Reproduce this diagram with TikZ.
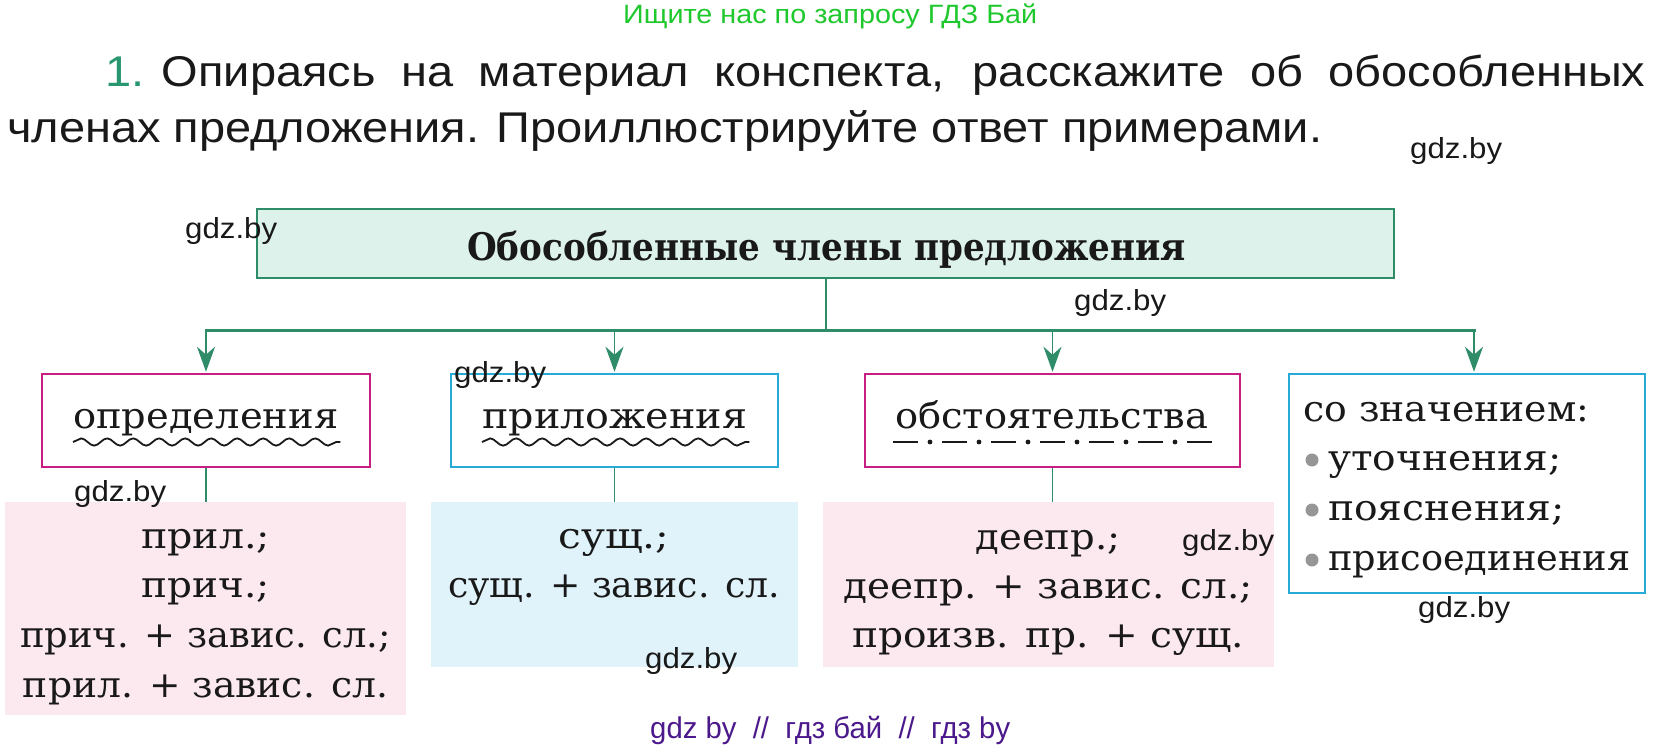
\documentclass[tikz,border=0pt]{standalone}
\usepackage{fontspec}
\setmainfont{DejaVu Serif}
\newfontfamily\hsans{Liberation Sans}
\usetikzlibrary{arrows.meta,decorations.pathmorphing}
\definecolor{grn}{RGB}{46,140,105}
\definecolor{mintfill}{RGB}{222,242,236}
\definecolor{mag}{RGB}{200,30,130}
\definecolor{cya}{RGB}{40,170,215}
\definecolor{pinkfill}{RGB}{252,232,239}
\definecolor{bluefill}{RGB}{224,243,251}
\definecolor{topgreen}{RGB}{30,200,45}
\definecolor{numgreen}{RGB}{40,150,110}
\definecolor{purp}{RGB}{75,25,140}
\definecolor{bulgray}{RGB}{150,150,150}
\definecolor{txt}{RGB}{25,25,25}
\newsavebox\fitbox
\newcommand\fitx[2]{\sbox\fitbox{#2}\pgfmathsetmacro\fitsc{#1/\the\wd\fitbox}\scalebox{\fitsc}[1]{\usebox\fitbox}}
\newcommand\hdrf{\hsans\fontsize{43}{50}\selectfont}
\newcommand\topf{\hsans\fontsize{26.5}{30}\selectfont}
\newcommand\bodyf{\fontsize{36}{40}\selectfont}
\newcommand\titlef{\bfseries\fontsize{38}{44}\selectfont}
\newcommand\gdzf{\hsans\fontsize{29}{32}\selectfont}
\newcommand\gdz{\gdzf\fitx{92}{gdz.by}}
\newcommand\hdrtwo{членах предложения. Проиллюстрируйте ответ примерами.}
\tikzset{
  mainbox/.style={draw=grn, fill=mintfill, line width=2pt, inner sep=0pt},
  magbox/.style={draw=mag, line width=2.5pt, inner sep=0pt},
  cyabox/.style={draw=cya, line width=2.5pt, inner sep=0pt},
  pinkrect/.style={fill=pinkfill, inner sep=0pt},
  bluerect/.style={fill=bluefill, inner sep=0pt},
  conn/.style={draw=grn, line width=2pt},
  hconn/.style={draw=grn, line width=3pt, line cap=rect},
  arr/.style={draw=grn, line width=1.8pt, -{Stealth[length=25pt,width=18pt,inset=8pt]}, shorten >=1pt},
  lconn/.style={draw=grn, line width=1.5pt},
  txtl/.style={anchor=base west, inner sep=0pt, text=txt},
  txtc/.style={anchor=base, inner sep=0pt, text=txt},
  wave/.style={draw=txt, line width=1.8pt, decorate, decoration={snake, segment length=26pt, amplitude=3.6pt}},
}
\begin{document}
\begin{tikzpicture}[x=1pt,y=-1pt]
\useasboundingbox (0,0) rectangle (1665,750);
\fill[white] (0,0) rectangle (1665,750);

% header
\node[anchor=base west, inner sep=0pt] (top) at (623,23) {\topf\color{topgreen}\fitx{414}{Ищите нас по запросу ГДЗ Бай}};
\node[txtl] (h2) at (7,142) {\sbox\fitbox{\hdrf\hdrtwo}\pgfmathsetmacro\hs{1315/\the\wd\fitbox}\global\let\hsg\hs\scalebox{\hs}[1]{\hdrf\hdrtwo}};
\pgfmathsetmacro\lw{1540/\hsg}
\node[txtl] (h1) at (105,86) {\scalebox{\hsg}[1]{\makebox[\lw pt][s]{\hdrf{\color{numgreen}1.}\hspace{16pt}Опираясь на материал конспекта, расскажите об обособленных}}};

% boxes
\node[mainbox, minimum width=1137pt, minimum height=69pt] (main) at (825.5,243.5) {};
\node[magbox, minimum width=328pt, minimum height=93pt] (b1) at (206,420.5) {};
\node[cyabox, minimum width=327pt, minimum height=93pt] (b2) at (614.5,420.5) {};
\node[magbox, minimum width=375pt, minimum height=93pt] (b3) at (1052.5,420.5) {};
\node[cyabox, minimum width=356pt, minimum height=219pt] (b4) at (1467,483.5) {};
\node[pinkrect, minimum width=401pt, minimum height=213pt] (p1) at (205.5,608.5) {};
\node[bluerect, minimum width=367pt, minimum height=165pt] (p2) at (614.5,584.5) {};
\node[pinkrect, minimum width=451pt, minimum height=165pt] (p3) at (1048.5,584.5) {};

% connectors
\coordinate (hb) at (825.5,330);
\coordinate (a4) at ([xshift=7pt]b4.north);
\draw[conn] (main.south) -- (hb);
\draw[hconn] (b1.north |- hb) -- (a4 |- hb);
\draw[arr] (b1.north |- hb) -- (b1.north);
\draw[arr] (b2.north |- hb) -- (b2.north);
\draw[arr] (b3.north |- hb) -- (b3.north);
\draw[arr] (a4 |- hb) -- (a4);
\draw[lconn] (b1.south) -- (b1.south |- p1.north);
\draw[lconn] (b2.south) -- (b2.south |- p2.north);
\draw[lconn] (b3.south) -- (b3.south |- p3.north);

% title
\node[txtl] (ttl) at (467,260) {\titlef\fitx{719}{Обособленные члены предложения}};

% box texts
\node[txtl] (t1) at (73,428) {\bodyf\fitx{265}{определения}};
\node[txtl] (t2) at (482,428) {\bodyf\fitx{265}{приложения}};
\node[txtl] (t3) at (895,428) {\bodyf\fitx{313}{обстоятельства}};
\draw[wave] ([yshift=-14pt]t1.base west) -- ([yshift=-14pt,xshift=2pt]t1.base east);
\draw[wave] ([yshift=-14pt]t2.base west) -- ([yshift=-14pt,xshift=2pt]t2.base east);
\foreach \k in {0,...,6} {\draw[txt, line width=2pt] (893+49*\k,442) -- ++(25,0);}
\foreach \k in {0,...,5} {\fill[txt] (930+49*\k,442) circle (2.4pt);}

\node[txtl] (s0) at (1303,421) {\bodyf\fitx{286}{со значением:}};
\node[txtl] (s1) at (1328,470) {\bodyf\fitx{233}{уточнения;}};
\node[txtl] (s2) at (1328,520) {\bodyf\fitx{236}{пояснения;}};
\node[txtl] (s3) at (1328,570) {\bodyf\fitx{302}{присоединения}};
\fill[bulgray] (1312,460) circle (6.5pt);
\fill[bulgray] (1312,510) circle (6.5pt);
\fill[bulgray] (1312,560) circle (6.5pt);

% rect texts
\node[txtc] (r11) at (205.5,548) {\bodyf\fitx{129}{прил.;}};
\node[txtc] (r12) at (205.5,597) {\bodyf\fitx{128}{прич.;}};
\node[txtc] (r13) at (205.5,647) {\bodyf\fitx{371}{прич. + завис. сл.;}};
\node[txtc] (r14) at (205.5,697) {\bodyf\fitx{365}{прил. + завис. сл.}};
\node[txtc] (r21) at (614,548) {\bodyf\fitx{111}{сущ.;}};
\node[txtc] (r22) at (614,597) {\bodyf\fitx{332}{сущ. + завис. сл.}};
\node[txtc] (r31) at (1048,549) {\bodyf\fitx{145}{деепр.;}};
\node[txtc] (r32) at (1048,598) {\bodyf\fitx{410}{деепр. + завис. сл.;}};
\node[txtc] (r33) at (1048,647) {\bodyf\fitx{392}{произв. пр. + сущ.}};

% watermarks
\node[txtl] (g1) at (1410,158) {\gdz};
\node[txtl] (g2) at (185,238) {\gdz};
\node[txtl] (g3) at (1074,310) {\gdz};
\node[txtl] (g4) at (454,382) {\gdz};
\node[txtl] (g5) at (74,501) {\gdz};
\node[txtl] (g6) at (645,668) {\gdz};
\node[txtl] (g7) at (1182,550) {\gdz};
\node[txtl] (g8) at (1418,617) {\gdz};
\node[anchor=base west, inner sep=0pt] (bot) at (650,738) {\gdzf\fontsize{30}{34}\selectfont\color{purp}\fitx{360}{gdz by\ \ //\ \ гдз бай\ \ //\ \ гдз by}};
\end{tikzpicture}
\end{document}
